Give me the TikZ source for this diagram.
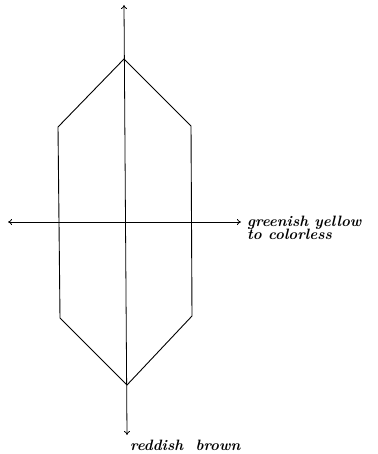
\documentclass[tikz,border=0pt]{standalone}
\usepackage{fontspec}
\usetikzlibrary{arrows.meta}
\tikzset{
  axis/.style={line width=0.8pt,-{To[length=4pt,width=6pt]}},
  edge/.style={line width=0.9pt},
  lbl/.style={font=\fontsize{15}{13.5}\selectfont\bfseries\itshape\addfontfeatures{LetterSpace=7},inner sep=0pt,anchor=base west,align=left}
}
\begin{document}
\begin{tikzpicture}[x=1pt,y=-1pt]
\useasboundingbox (0,0) rectangle (377,454);
% hexagon vertices
\coordinate (T) at (124,59);
\coordinate (UL) at (58,127);
\coordinate (UR) at (191,126);
\coordinate (LL) at (60,318);
\coordinate (LR) at (192,316);
\coordinate (B) at (127,385);
\draw[edge] (T) -- (UR) -- (LR) -- (B) -- (LL) -- (UL) -- cycle;
% axes
\coordinate (vtop) at (124,5);
\coordinate (vbot) at (127,435);
\coordinate (hl) at (8,222);
\coordinate (hr) at (241,222);
\coordinate (c) at (125.5,222);
\draw[axis] (c) -- (vtop);
\draw[axis] (c) -- (vbot);
\draw[axis] (c) -- (hl);
\draw[axis] (c) -- (hr);
\node[lbl] (lr) at (247,239.5) {greenish yellow\\to colorless};
\node[lbl] (lb) at (130,450) {reddish\ \ brown};
\end{tikzpicture}
\end{document}
